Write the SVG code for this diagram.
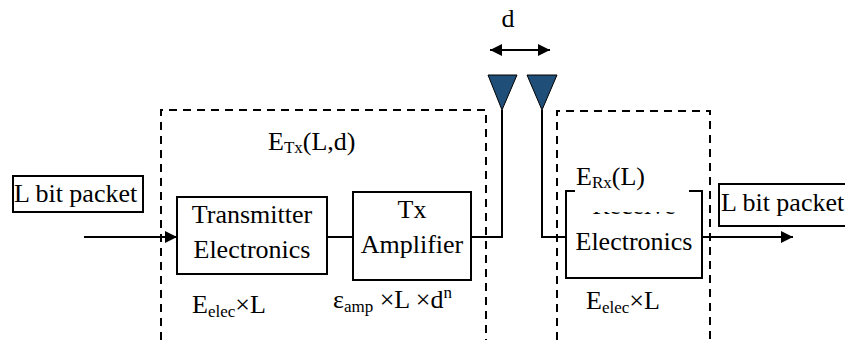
<svg xmlns="http://www.w3.org/2000/svg" width="845" height="340" viewBox="0 0 845 340">
<defs>
<marker id="ahb" viewBox="0 0 10 10" refX="10" refY="5" markerWidth="17" markerHeight="12" markerUnits="userSpaceOnUse" orient="auto-start-reverse">
<path d="M0,0 L10,5 L0,10 z" fill="#000"/>
</marker>
</defs>
<style>
text{font-family:"Liberation Serif","Times New Roman",serif;font-size:26px;fill:#000}
.sub{font-size:17px}
.box{fill:#fff;stroke:#000;stroke-width:2}
.dash{fill:none;stroke:#000;stroke-width:2;stroke-dasharray:8,6}
.ln{fill:none;stroke:#000;stroke-width:2}
.ant{fill:#1f4e79;stroke:#000;stroke-width:1}
</style>
<rect width="845" height="340" fill="#fff"/>
<g id="tx-region">
<path class="dash" d="M161,340 V110 H486 V340"/>
<text x="268" y="150">E<tspan class="sub" dy="3">Tx</tspan><tspan dy="-3">(L,d)</tspan></text>
</g>
<g id="rx-region">
<path class="dash" d="M557,340 V111 H710 V340"/>
</g>
<g id="connectors">
<path class="ln" d="M84,237 H177" marker-end="url(#ahb)"/>
<path class="ln" d="M327,237 H353"/>
<path class="ln" d="M471,237 H502 V110"/>
<path class="ln" d="M542,110 V237 H566"/>
<path class="ln" d="M702,237 H793" marker-end="url(#ahb)"/>
<path class="ln" d="M490,50 H550" marker-start="url(#ahb)" marker-end="url(#ahb)"/>
</g>
<g id="label-d"><text x="508" y="27" text-anchor="middle">d</text></g>
<g id="antenna-tx"><polygon class="ant" points="488,75 517,75 502,110"/></g>
<g id="antenna-rx"><polygon class="ant" points="527,75 557,75 542,110"/></g>
<g id="input-packet">
<rect class="box" x="13" y="176" width="130" height="36"/>
<text x="14" y="202">L bit packet</text>
</g>
<g id="transmitter-electronics">
<rect class="box" x="177" y="197" width="150" height="77"/>
<text x="252" y="223" text-anchor="middle">Transmitter</text>
<text x="252" y="258" text-anchor="middle">Electronics</text>
<text x="192" y="313">E<tspan class="sub" dy="4">elec</tspan><tspan dy="-4">×L</tspan></text>
</g>
<g id="tx-amplifier">
<rect class="box" x="353" y="192" width="118" height="88"/>
<text x="412" y="218" text-anchor="middle">Tx</text>
<text x="412" y="253" text-anchor="middle">Amplifier</text>
<text x="333" y="308">ε<tspan class="sub" dy="4">amp</tspan><tspan dy="-4"> ×L ×d</tspan><tspan class="sub" dy="-10">n</tspan></text>
</g>
<g id="receive-electronics">
<rect class="box" x="566" y="191" width="136" height="87"/>
<text x="634" y="214" text-anchor="middle">Receive</text>
<rect x="575" y="160" width="114" height="52" fill="#fff"/>
<text x="576" y="185">E<tspan class="sub" dy="3">Rx</tspan><tspan dy="-3">(L)</tspan></text>
<text x="634" y="250" text-anchor="middle">Electronics</text>
<text x="586" y="309">E<tspan class="sub" dy="4">elec</tspan><tspan dy="-4">×L</tspan></text>
</g>
<g id="output-packet">
<rect class="box" x="719" y="184" width="140" height="42"/>
<text x="721" y="211">L bit packet</text>
</g>
</svg>
